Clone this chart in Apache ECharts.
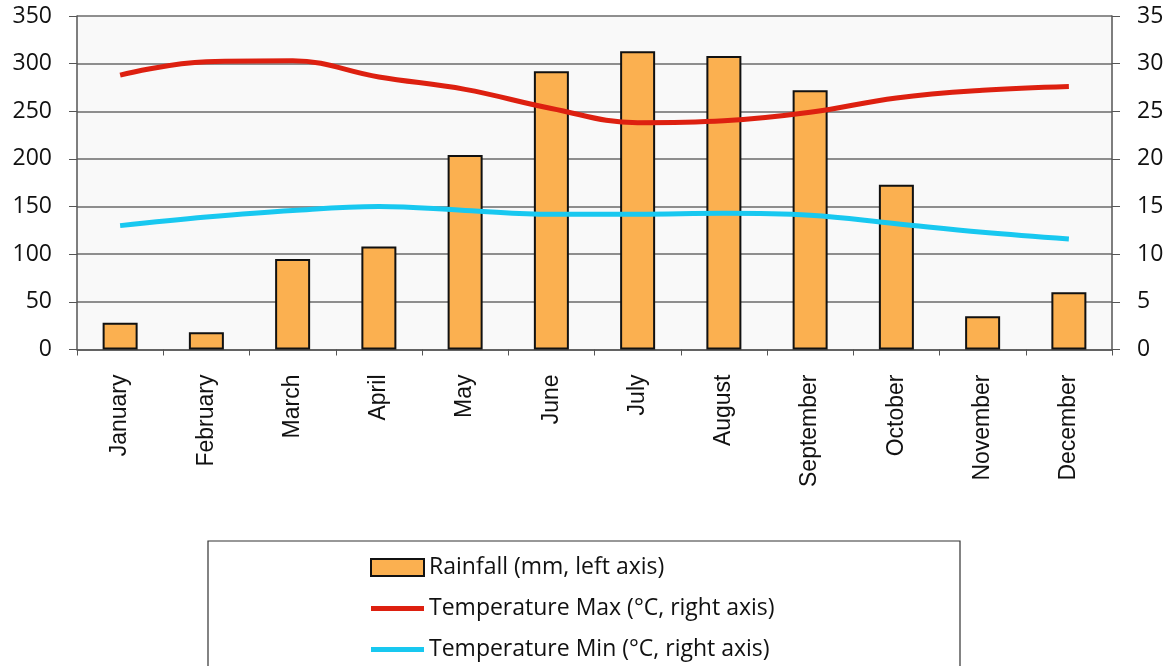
<!DOCTYPE html>
<html>
<head>
    <meta charset="utf-8">
    <title>Rainfall and temperature</title>
    <script src="https://cdn.jsdelivr.net/npm/echarts@6/dist/echarts.min.js"></script>
</head>
<body style="margin:0;background:#fff;">
<div id="main" style="width:1170px;height:666px;"></div>
<script type="text/javascript">
    // data
    var months = ['January', 'February', 'March', 'April', 'May', 'June',
        'July', 'August', 'September', 'October', 'November', 'December'];
    var rainfall = [28, 18, 95, 108, 204, 292, 313, 308, 272, 173, 35, 60];
    var tempMax = [28.8, 30.2, 30.3, 28.6, 27.3, 25.3, 23.8, 24.0, 24.9, 26.4, 27.2, 27.6];
    var tempMin = [13.0, 13.9, 14.6, 15.0, 14.6, 14.2, 14.2, 14.3, 14.1, 13.2, 12.3, 11.6];
    var leftTicks = [0, 350, 50];
    var rightTicks = [0, 35, 5];

    var font = '"Open Sans", sans-serif';
    // flat thick line for the legend of the line series
    var lineIcon = 'path://M0,0 L53,0 L53,5 L0,5 Z';
    var myChart = echarts.init(document.getElementById('main'));

    var option = {
        backgroundColor: '#fff',
        animation: false,
        textStyle: {fontFamily: font},
        grid: {
            left: 77, right: 58, top: 16, bottom: 316.5,
            show: true, backgroundColor: '#f9f9f9', borderWidth: 0
        },
        graphic: [{
            type: 'rect',
            z: 0,
            shape: {x: 208, y: 541, width: 752, height: 140},
            style: {fill: '#fff', stroke: '#333', lineWidth: 1.2}
        }],
        legend: {
            orient: 'vertical',
            left: 370,
            top: 556,
            padding: 0,
            itemWidth: 53,
            itemHeight: 17,
            itemGap: 18,
            textStyle: {fontSize: 23, color: '#111', fontFamily: font},
            data: [
                {name: 'Rainfall (mm, left axis)', icon: 'rect'},
                {name: 'Temperature Max (°C, right axis)', icon: lineIcon},
                {name: 'Temperature Min (°C, right axis)', icon: lineIcon}
            ]
        },
        xAxis: {
            type: 'category',
            data: months,
            axisLine: {lineStyle: {color: '#555', width: 1.5}},
            axisTick: {show: true, length: 6, lineStyle: {color: '#555'}},
            axisLabel: {
                rotate: 90, fontSize: 23, color: '#111', margin: 25, interval: 0,
                fontFamily: '"Liberation Sans", Arial, sans-serif'
            }
        },
        yAxis: [{
            type: 'value',
            min: leftTicks[0], max: leftTicks[1], interval: leftTicks[2],
            axisLine: {show: true, lineStyle: {color: '#555', width: 1.5}},
            axisTick: {show: true, length: 8, lineStyle: {color: '#555'}},
            axisLabel: {fontSize: 23, color: '#111', margin: 25, padding: [8, 0, 0, 0]},
            splitLine: {lineStyle: {color: '#6a6a6a', width: 1.5}}
        }, {
            type: 'value',
            min: rightTicks[0], max: rightTicks[1], interval: rightTicks[2],
            position: 'right',
            axisLine: {show: true, lineStyle: {color: '#555', width: 1.5}},
            axisTick: {show: true, length: 8, lineStyle: {color: '#555'}},
            axisLabel: {fontSize: 23, color: '#111', margin: 25, padding: [8, 0, 0, 0]},
            splitLine: {show: false}
        }],
        series: [{
            name: 'Rainfall (mm, left axis)',
            type: 'bar',
            yAxisIndex: 0,
            data: rainfall,
            barWidth: 35,
            itemStyle: {color: '#fbb050', borderColor: '#111', borderWidth: 2}
        }, {
            name: 'Temperature Max (°C, right axis)',
            type: 'line',
            yAxisIndex: 1,
            data: tempMax,
            smooth: 0.4,
            symbol: 'none',
            lineStyle: {color: '#dd2010', width: 5},
            itemStyle: {color: '#dd2010'}
        }, {
            name: 'Temperature Min (°C, right axis)',
            type: 'line',
            yAxisIndex: 1,
            data: tempMin,
            smooth: 0.4,
            symbol: 'none',
            lineStyle: {color: '#18c8f0', width: 5},
            itemStyle: {color: '#18c8f0'}
        }]
    };

    myChart.setOption(option);
</script>
</body>
</html>
